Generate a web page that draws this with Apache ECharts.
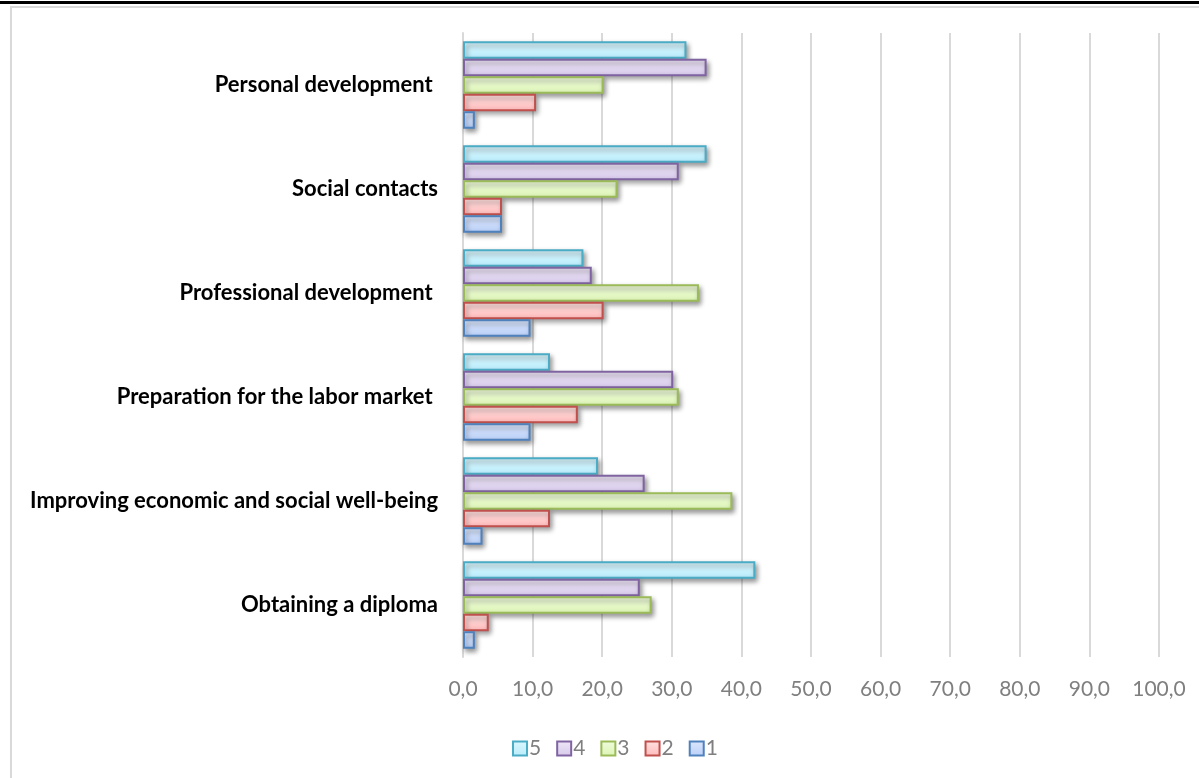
<!DOCTYPE html>
<html>
<head>
<meta charset="utf-8">
<script src="https://cdn.jsdelivr.net/npm/echarts@6/dist/echarts.min.js"></script>
<style>
  html, body { margin: 0; padding: 0; background: #fff; }
  #main { width: 1199px; height: 778px; }
</style>
</head>
<body>
<div id="main"></div>
<script>
// categories, bottom to top as on the picture
var categories = ['Obtaining a diploma', 'Improving economic and social well-being', 'Preparation for the labor market ',
    'Professional development ', 'Social contacts', 'Personal development '];

// values per answer
var s5 = [42.0, 19.4, 12.5, 17.3, 35.0, 32.1];
var s4 = [25.4, 26.1, 30.2, 18.5, 31.0, 35.0];
var s3 = [27.1, 38.7, 31.0, 33.9, 22.2, 20.2];
var s2 = [3.7, 12.5, 16.5, 20.2, 5.6, 10.5];
var s1 = [1.7, 2.8, 9.7, 9.7, 5.6, 1.7];

var seriesNames = ['5', '4', '3', '2', '1'];
var seriesData = [s5, s4, s3, s2, s1];
var borderColors = ['#4bacc6', '#8064a2', '#9bbb59', '#c0504d', '#4f81bd'];
var topColors = ['#dcf7fe', '#eee7f6', '#f1fcdf', '#ffe2e2', '#dde8fd'];
var bottomColors = ['#b8ecfb', '#d6c9eb', '#dbf4b3', '#ffbaba', '#b9cff8'];

var myChart = echarts.init(document.getElementById('main'));

var series = [];
for (var i = 0; i < seriesNames.length; i++) {
    series.push({
        name: seriesNames[i],
        type: 'bar',
        data: seriesData[i],
        barGap: '0%',
        barCategoryGap: '16%',
        itemStyle: {
            color: new echarts.graphic.LinearGradient(0, 0, 0, 1, [
                {offset: 0, color: topColors[i]},
                {offset: 1, color: bottomColors[i]}
            ]),
            borderColor: borderColors[i],
            borderWidth: 2,
            shadowBlur: 5,
            shadowColor: 'rgba(0,0,0,0.4)',
            shadowOffsetX: 2,
            shadowOffsetY: 3
        },
        emphasis: {disabled: true}
    });
}

var option = {
    animation: false,
    backgroundColor: '#fff',
    graphic: [
        {
            type: 'rect',
            shape: {x: 0, y: 1, width: 1199, height: 3},
            style: {fill: '#000'}
        },
        {
            type: 'rect',
            shape: {x: 11, y: 7, width: 1220, height: 800},
            style: {fill: 'none', stroke: '#d9d9d9', lineWidth: 2}
        }
    ],
    grid: {
        left: 463,
        right: 40,
        top: 33,
        bottom: 121
    },
    legend: {
        data: seriesNames,
        left: 507,
        top: 733,
        itemWidth: 14,
        itemHeight: 14,
        itemGap: 15,
        icon: 'rect',
        textStyle: {
            color: '#7f7f7f',
            fontFamily: 'Lato',
            fontSize: 21,
            padding: [0, 0, 0, -3]
        }
    },
    xAxis: {
        type: 'value',
        min: 0,
        max: 100,
        interval: 10,
        axisLine: {show: false},
        axisTick: {show: false},
        axisLabel: {
            color: '#7f7f7f',
            fontFamily: 'Lato',
            fontSize: 21,
            margin: 22,
            formatter: function (v) {
                return v.toFixed(1).replace('.', ',');
            }
        },
        splitLine: {
            lineStyle: {color: '#d9d9d9', width: 2}
        }
    },
    yAxis: {
        type: 'category',
        data: categories,
        axisLine: {lineStyle: {color: '#d9d9d9', width: 2}},
        axisTick: {show: false},
        axisLabel: {
            color: '#000',
            fontFamily: 'Lato',
            fontWeight: 'bold',
            fontSize: 22,
            margin: 25
        }
    },
    series: series
};

myChart.setOption(option);
</script>
</body>
</html>
